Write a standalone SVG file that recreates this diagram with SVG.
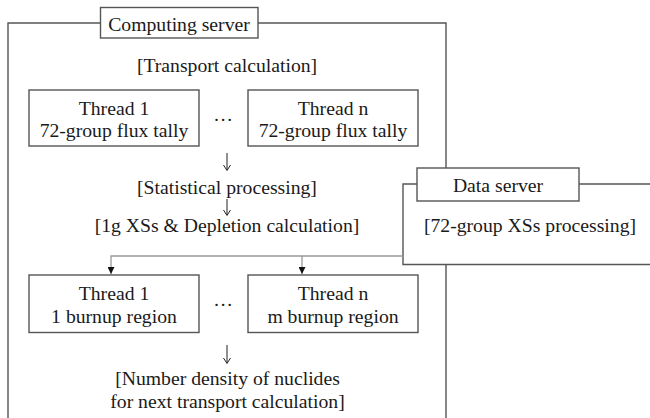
<svg xmlns="http://www.w3.org/2000/svg" width="650" height="418" viewBox="0 0 650 418">
  <defs>
    <style>
      text { font-family: "Liberation Serif", "DejaVu Serif", serif; font-size: 19.7px; fill: #1a1a1a; text-anchor: middle; }
      .frame { fill: none; stroke: #555; stroke-width: 1.4; }
      .panel { fill: #fff; stroke: #555; stroke-width: 1.4; }
      .box { fill: #fff; stroke: #555; stroke-width: 1.4; }
      .link { fill: none; stroke: #999; stroke-width: 1.3; }
      .step { fill: none; stroke: #222; stroke-width: 1; }
    </style>
    <marker id="tip" viewBox="0 0 10 10" refX="10" refY="5" markerWidth="7" markerHeight="7" markerUnits="userSpaceOnUse" orient="auto">
      <path d="M0,0 L10,5 L0,10 Z" fill="#111"/>
    </marker>
  </defs>

  <!-- Computing server frame (open at the bottom) -->
  <g id="computing-server">
    <path class="frame" d="M8,420 V23 H446 V420"/>
    <rect class="box" x="100.5" y="7.5" width="157.5" height="30.5"/>
    <text x="179" y="31">Computing server</text>
    <text x="227" y="72">[Transport calculation]</text>
  </g>

  <!-- Transport threads -->
  <g id="transport-thread-1">
    <rect class="box" x="29" y="90" width="170" height="56"/>
    <text x="114" y="115">Thread 1</text>
    <text x="114" y="137">72-group flux tally</text>
  </g>
  <g id="transport-ellipsis">
    <text x="223" y="121">…</text>
  </g>
  <g id="transport-thread-n">
    <rect class="box" x="248" y="90" width="170" height="56"/>
    <text x="333" y="115">Thread n</text>
    <text x="333" y="137">72-group flux tally</text>
  </g>

  <g id="statistical-processing">
    <text x="227" y="194">[Statistical processing]</text>
  </g>
  <g id="depletion-calculation">
    <text x="227" y="232">[1g XSs &amp; Depletion calculation]</text>
  </g>

  <!-- Data server panel, drawn over the computing server border -->
  <g id="data-server">
    <path class="panel" d="M660,184 H403 V264.5 H660"/>
    <rect class="box" x="417" y="168" width="162" height="33"/>
    <text x="498" y="192">Data server</text>
    <text x="530" y="232">[72-group XSs processing]</text>
  </g>

  <g id="depletion-thread-1">
    <rect class="box" x="29" y="275" width="170" height="57.5"/>
    <text x="114" y="300">Thread 1</text>
    <text x="114" y="323">1 burnup region</text>
  </g>
  <g id="depletion-ellipsis">
    <text x="223" y="306">…</text>
  </g>
  <g id="depletion-thread-n">
    <rect class="box" x="248" y="275" width="170" height="57.5"/>
    <text x="333" y="300">Thread n</text>
    <text x="333" y="323">m burnup region</text>
  </g>

  <g id="number-density">
    <text x="227.5" y="385">[Number density of nuclides</text>
    <text x="227.5" y="408">for next transport calculation]</text>
  </g>

  <!-- Connectors -->
  <g id="connectors">
    <path class="link" d="M403,256 H111 V274" marker-end="url(#tip)"/>
    <path class="link" d="M302,256 V274" marker-end="url(#tip)"/>
    <!-- step arrows between stages -->
    <path class="step" d="M227,153 V170 M223.5,165 L227,170.5 L230.5,165"/>
    <path class="step" d="M227,199 V215 M223.5,210 L227,215.5 L230.5,210"/>
    <path class="step" d="M227,345 V363 M223.5,358 L227,363.5 L230.5,358"/>
  </g>
</svg>
